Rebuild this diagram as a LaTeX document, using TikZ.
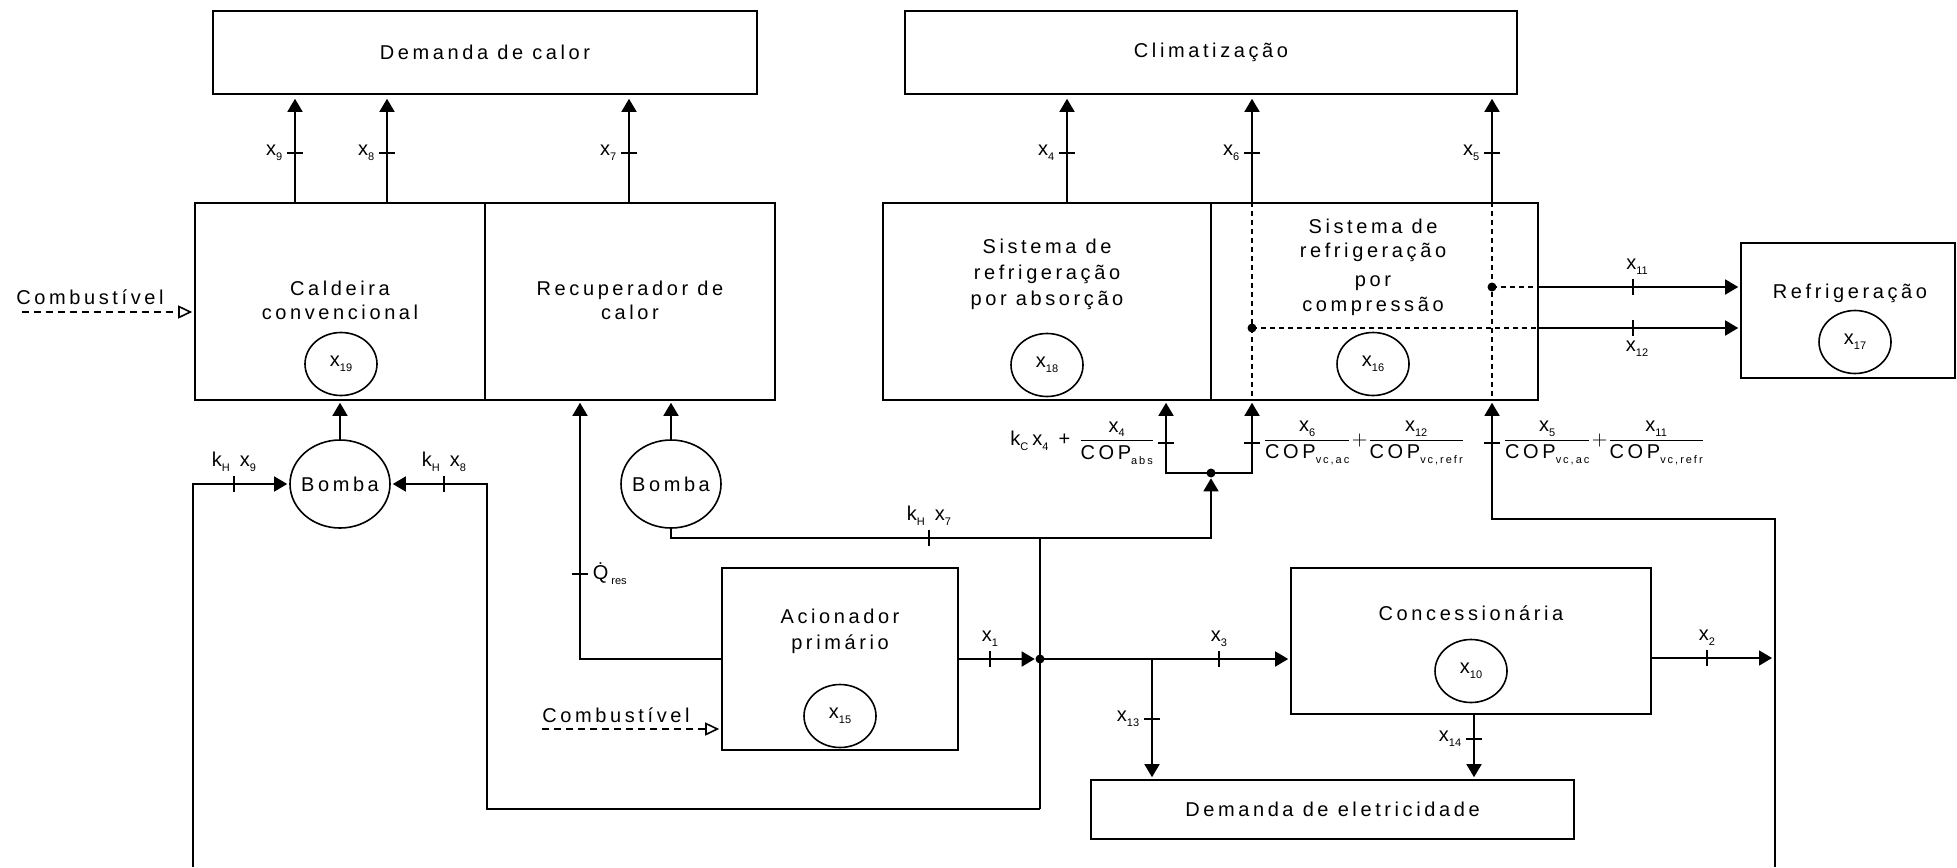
\documentclass[tikz,border=0pt]{standalone}
\usepackage{amsmath}
\usepackage{fontspec}
\setmainfont{Liberation Sans}
\newfontfamily\lsp[LetterSpace=18]{Liberation Sans}
\usepackage{tikz}
\usetikzlibrary{arrows.meta,shapes.geometric,calc}
\newcommand\idx[1]{\raisebox{-0.45ex}{\fontsize{5.5}{6}\selectfont #1}}

\begin{document}
\begin{tikzpicture}[x=0.5pt,y=-0.5pt,line width=0.8pt,
  blk/.style={draw,rectangle,inner sep=0pt,font=\lsp},
  txt/.style={inner sep=0pt,font=\lsp,align=center},
  ell/.style={draw,ellipse,inner sep=0pt,minimum width=36pt,minimum height=31.5pt},
  pump/.style={draw,ellipse,inner sep=0pt,minimum width=50pt,minimum height=44pt},
  lbl/.style={inner sep=2pt},
  arr/.style={-{Triangle[length=6.5pt,width=7.5pt]},shorten >=1pt},
  fuel/.style={dash pattern=on 3.5pt off 2.5pt,-{Triangle[open,length=7pt,width=6.5pt]},shorten >=1pt},
  dsh/.style={dash pattern=on 2.5pt off 2pt},
  jdot/.style={circle,fill,inner sep=0pt,minimum size=4.5pt}]
\useasboundingbox (0,0) rectangle (1957,867);
%
\node[blk,minimum width=272pt,minimum height=41.5pt] (calor) at (485,52.5) {Demanda de calor};
\node[blk,minimum width=306pt,minimum height=41.5pt] (clima) at (1211,52.5) {Climatização};
\node[blk,minimum width=145pt,minimum height=98.5pt] (cald) at (340,301.5) {};
\node[blk,minimum width=145pt,minimum height=98.5pt] (recup) at (630,301.5) {};
\node[blk,minimum width=164pt,minimum height=98.5pt] (sabs) at (1047,301.5) {};
\node[blk,minimum width=163.5pt,minimum height=98.5pt] (scomp) at (1374.5,301.5) {};
\node[blk,minimum width=107pt,minimum height=67.5pt] (refr) at (1848,310.5) {};
\node[blk,minimum width=118pt,minimum height=91pt] (acion) at (840,659) {};
\node[blk,minimum width=180pt,minimum height=73pt] (conc) at (1471,641) {};
\node[blk,minimum width=241.5pt,minimum height=29.5pt] (eletr) at (1332.5,809.5) {Demanda de eletricidade};
%
\node[txt] (tcald) at (340,300) {Caldeira\\convencional};
\node[txt] (trecup) at (630,300) {Recuperador de\\calor};
\node[txt] (tabs) at (1047,274) {Sistema de\\[1pt]refrigeração\\[1pt]por absorção};
\node[txt] (tcomp) at (1373,267) {Sistema de\\refrigeração\\[2.5pt]por\\[0.5pt]compressão};
\node[txt] (trefr) at (1850,293) {Refrigeração};
\node[txt] (tacion) at (840,631) {Acionador\\[1pt]primário};
\node[txt] (tconc) at (1471,613) {Concessionária};
\node[txt] (tfuel1) at (90,297) {Combustível};
\node[txt] (tfuel2) at (616,715) {Combustível};
%
\node[ell] (e19) at (341,364) {x\idx{19}};
\node[ell] (e18) at (1047,365) {x\idx{18}};
\node[ell] (e16) at (1373,364) {x\idx{16}};
\node[ell] (e17) at (1855,342) {x\idx{17}};
\node[ell] (e15) at (840,716) {x\idx{15}};
\node[ell] (e10) at (1471,671) {x\idx{10}};
\node[pump,label={[font=\lsp]center:Bomba}] (bomba1) at (340,484) {};
\node[pump,label={[font=\lsp]center:Bomba}] (bomba2) at (671,484) {};
%
\node[jdot] (d1) at (1040,659) {};
\node[jdot] (d2) at (1211,473) {};
\node[jdot] (d3) at (1252,328) {};
\node[jdot] (d4) at (1492,287) {};
%
\coordinate (t9) at (295,153);
\coordinate (t8) at (387,153);
\coordinate (t7) at (629,153);
\coordinate (t4) at (1067,153);
\coordinate (t6) at (1252,153);
\coordinate (t5) at (1492,153);
\coordinate (ta) at (1166,443);
\coordinate (tb) at (1252,443);
\coordinate (tc) at (1492,443);
\coordinate (tq) at (580,574);
\coordinate (t13) at (1152,719);
\coordinate (t14) at (1474,739);
\coordinate (t11) at (1633,287);
\coordinate (t12) at (1633,328);
\coordinate (tk9) at (234,484);
\coordinate (tk8) at (444,484);
\coordinate (tk7) at (929,538);
\coordinate (t1) at (990,659);
\coordinate (t3) at (1219,659);
\coordinate (t2) at (1707,658);
\coordinate (lb) at (193,867);
\coordinate (jb) at (1040,809);
\coordinate (lp) at (487,809);
\coordinate (rb) at (1775,867);
\coordinate (rc) at (1775,519);
\coordinate (f1) at (22,312);
\coordinate (f2) at (542,729);
%
\draw[arr,shorten >=2pt] (t9 |- cald.north) -- (t9 |- calor.south);
\draw[arr,shorten >=2pt] (t8 |- cald.north) -- (t8 |- calor.south);
\draw[arr,shorten >=2pt] (t7 |- recup.north) -- (t7 |- calor.south);
\draw[arr,shorten >=2pt] (t4 |- sabs.north) -- (t4 |- clima.south);
\draw[arr,shorten >=2pt] (t6 |- scomp.north) -- (t6 |- clima.south);
\draw[arr,shorten >=2pt] (t5 |- scomp.north) -- (t5 |- clima.south);
%
\draw[dsh] (t6 |- scomp.north) -- (t6 |- scomp.south);
\draw[dsh] (t5 |- scomp.north) -- (t5 |- scomp.south);
\draw[dsh] (d3.center) -- (d3 -| scomp.east);
\draw[dsh] (d4.center) -- (d4 -| scomp.east);
\draw[arr] (d4 -| scomp.east) -- (d4 -| refr.west);
\draw[arr] (d3 -| scomp.east) -- (d3 -| refr.west);
%
\draw[arr] (bomba1.north) -- (bomba1 |- cald.south);
\draw[arr] (bomba2.north) -- (bomba2 |- recup.south);
\draw[arr] (lb) |- (bomba1.west);
\draw[arr] (jb) -- (lp) |- (bomba1.east);
\draw (jb) -- (jb |- tk7);
\draw[arr,shorten >=0pt] (bomba2.south) |- (tk7) -| (d2.south);
\draw[arr] (d2.center) -| (ta |- sabs.south);
\draw[arr] (d2.center) -| (tb |- scomp.south);
\draw[arr] (rb) -- (rc) -| (tc |- scomp.south);
\draw[arr] (acion.west) -| (tq |- recup.south);
%
\draw[arr,shorten >=0pt] (acion.east) -- (d1.west);
\draw[arr] (d1.center) -- (d1 -| conc.west);
\draw[arr] (t13 |- d1) -- (t13 |- eletr.north);
\draw[arr] (t14 |- conc.south) -- (t14 |- eletr.north);
\draw[arr,shorten >=1.5pt] (t2 -| conc.east) -- (t2 -| rb);
%
\draw[fuel] (f1) -- (f1 -| cald.west);
\draw[fuel] (f2) -- (f2 -| acion.west);
%
\foreach \c in {t9,t8,t7,t4,t6,t5,ta,tb,tc,tq,t13,t14}
  \draw ([xshift=-4pt]\c) -- ([xshift=4pt]\c);
\foreach \c in {t11,t12,tk9,tk8,tk7,t1,t3,t2}
  \draw ([yshift=-4pt]\c) -- ([yshift=4pt]\c);
%
\node[lbl,anchor=east] (l9) at ([xshift=-4pt]t9) {x\idx{9}};
\node[lbl,anchor=east] (l8) at ([xshift=-4pt]t8) {x\idx{8}};
\node[lbl,anchor=east] (l7) at ([xshift=-4pt]t7) {x\idx{7}};
\node[lbl,anchor=east] (l4) at ([xshift=-4pt]t4) {x\idx{4}};
\node[lbl,anchor=east] (l6) at ([xshift=-4pt]t6) {x\idx{6}};
\node[lbl,anchor=east] (l5) at ([xshift=-4pt]t5) {x\idx{5}};
\node[lbl,anchor=east] (l13) at ([xshift=-4pt]t13) {x\idx{13}};
\node[lbl,anchor=east] (l14) at ([xshift=-4pt]t14) {x\idx{14}};
\node[lbl,anchor=west] (lq) at ([xshift=4pt]tq) {\.{Q}\hspace{1.5pt}\idx{res}};
\node[lbl,anchor=south] (lk9) at ([yshift=4pt]tk9) {k\idx{H}\hspace{5pt}x\idx{9}};
\node[lbl,anchor=south] (lk8) at ([yshift=4pt]tk8) {k\idx{H}\hspace{5pt}x\idx{8}};
\node[lbl,anchor=south] (lk7) at ([yshift=4pt]tk7) {k\idx{H}\hspace{5pt}x\idx{7}};
\node[lbl,anchor=south] (l11) at ([xshift=2pt,yshift=4pt]t11) {x\idx{11}};
\node[lbl,anchor=north] (l12) at ([xshift=2pt,yshift=-4pt]t12) {x\idx{12}};
\node[lbl,anchor=south] (l1) at ([yshift=4pt]t1) {x\idx{1}};
\node[lbl,anchor=south] (l3) at ([yshift=4pt]t3) {x\idx{3}};
\node[lbl,anchor=south] (l2) at ([yshift=4pt]t2) {x\idx{2}};
%
\node[lbl,anchor=east,inner sep=1pt] (lfa) at ([xshift=-4pt]ta)
  {k\idx{C}\hspace{2pt}x\idx{4}\hspace{5pt}+\hspace{4pt}$\dfrac{\mbox{x\idx{4}}}{\mbox{\lsp COP\idx{abs}}}$};
\node[lbl,anchor=west,inner sep=1pt] (lfb) at ([xshift=4pt]tb)
  {$\dfrac{\mbox{x\idx{6}}}{\mbox{\lsp COP\idx{vc,ac}}}{+}\dfrac{\mbox{x\idx{12}}}{\mbox{\lsp COP\idx{vc,refr}}}$};
\node[lbl,anchor=west,inner sep=1pt] (lfc) at ([xshift=4pt]tc)
  {$\dfrac{\mbox{x\idx{5}}}{\mbox{\lsp COP\idx{vc,ac}}}{+}\dfrac{\mbox{x\idx{11}}}{\mbox{\lsp COP\idx{vc,refr}}}$};
%
\end{tikzpicture}
\end{document}
